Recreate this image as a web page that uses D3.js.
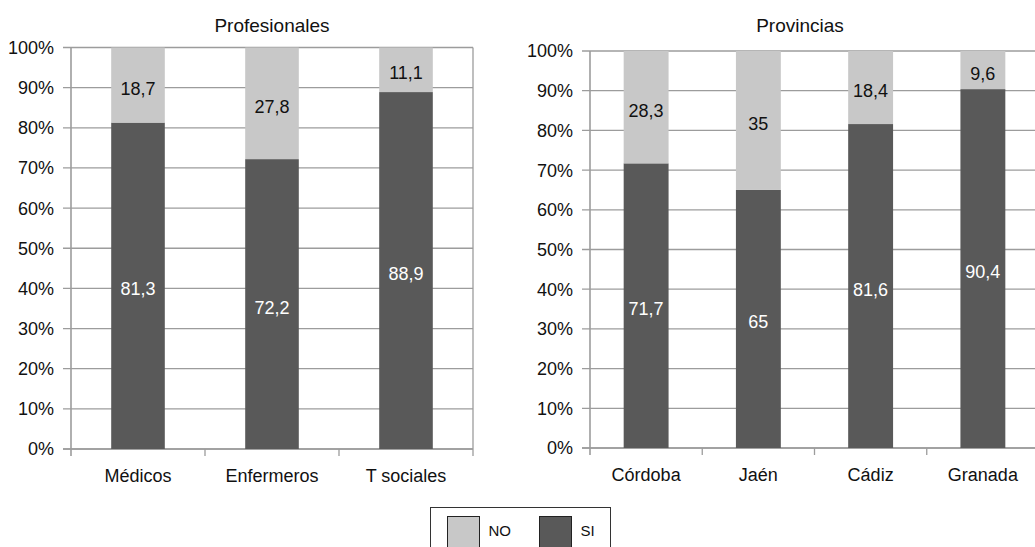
<!DOCTYPE html>
<html>
<head>
<meta charset="utf-8">
<script src="https://cdn.jsdelivr.net/npm/d3@7"></script>
<style>
  html, body { margin: 0; padding: 0; background: #fff; }
  svg { display: block; font-family: "Liberation Sans", Arial, Helvetica, sans-serif; }
</style>
</head>
<body>
<svg id="chart" width="1035" height="547"></svg>
<script>
// Percentages answering SI / NO, by professional group and by province
const profCategories = ["Médicos", "Enfermeros", "T sociales"];
const profSi = [81.3, 72.2, 88.9];
const profNo = [18.7, 27.8, 11.1];

const provCategories = ["Córdoba", "Jaén", "Cádiz", "Granada"];
const provSi = [71.7, 65, 81.6, 90.4];
const provNo = [28.3, 35, 18.4, 9.6];

const yTicks = [0, 10, 20, 30, 40, 50, 60, 70, 80, 90, 100];
const seriesNames = ["NO", "SI"];

const colors = { SI: "#595959", NO: "#c8c8c8" };
const gridColor = "#9c9c9c";
const fontSize = 18;

const svg = d3.select("#chart");

function fmt(v) { return String(v).replace(".", ","); }

function panel(opts) {
  const { title, categories, si, no, x0, x1, y0, y1 } = opts;
  const g = svg.append("g");

  const x = d3.scaleBand().domain(categories).range([x0, x1]).paddingInner(0).paddingOuter(0);
  const y = d3.scaleLinear().domain([0, 100]).range([y1, y0]);
  const barW = x.bandwidth() * 0.4;

  // horizontal gridlines (with left tick stubs)
  g.append("g").selectAll("line").data(yTicks).join("line")
    .attr("x1", x0 - 8).attr("x2", x1)
    .attr("y1", d => y(d)).attr("y2", d => y(d))
    .attr("stroke", gridColor).attr("stroke-width", 1.3);

  // y tick labels
  g.append("g").selectAll("text").data(yTicks).join("text")
    .attr("x", x0 - 17).attr("y", d => y(d))
    .attr("dy", "0.36em")
    .attr("text-anchor", "end")
    .attr("font-size", fontSize).attr("fill", "#111")
    .text(d => d + "%");

  // vertical axis line and right border
  g.append("line").attr("x1", x0).attr("x2", x0).attr("y1", y0).attr("y2", y1 + 7)
    .attr("stroke", gridColor).attr("stroke-width", 1.6);
  g.append("line").attr("x1", x1).attr("x2", x1).attr("y1", y0).attr("y2", y1)
    .attr("stroke", gridColor).attr("stroke-width", 1.3);

  // category boundary ticks below the base line
  const bounds = categories.map(c => x(c) + x.bandwidth());
  g.append("g").selectAll("line").data(bounds).join("line")
    .attr("x1", d => d).attr("x2", d => d)
    .attr("y1", y1).attr("y2", y1 + 7)
    .attr("stroke", gridColor).attr("stroke-width", 1.3);
  g.append("line").attr("x1", x0 - 8).attr("x2", x1).attr("y1", y1).attr("y2", y1)
    .attr("stroke", gridColor).attr("stroke-width", 1.6);

  const rows = categories.map((c, i) => ({ c, si: si[i], no: no[i] }));
  const cx = d => x(d.c) + x.bandwidth() / 2;

  // SI segments (bottom)
  g.append("g").selectAll("rect").data(rows).join("rect")
    .attr("x", d => cx(d) - barW / 2).attr("width", barW)
    .attr("y", d => y(d.si)).attr("height", d => y(0) - y(d.si))
    .attr("fill", colors.SI);
  // NO segments (stacked on top)
  g.append("g").selectAll("rect").data(rows).join("rect")
    .attr("x", d => cx(d) - barW / 2).attr("width", barW)
    .attr("y", d => y(d.si + d.no)).attr("height", d => y(d.si) - y(d.si + d.no))
    .attr("fill", colors.NO);

  // value labels
  g.append("g").selectAll("text").data(rows).join("text")
    .attr("x", cx).attr("y", d => (y(0) + y(d.si)) / 2 + 3)
    .attr("dy", "0.36em").attr("text-anchor", "middle")
    .attr("font-size", fontSize).attr("fill", "#fff")
    .text(d => fmt(d.si));
  g.append("g").selectAll("text").data(rows).join("text")
    .attr("x", cx).attr("y", d => (y(d.si) + y(d.si + d.no)) / 2 + 3)
    .attr("dy", "0.36em").attr("text-anchor", "middle")
    .attr("font-size", fontSize).attr("fill", "#111")
    .text(d => fmt(d.no));

  // category labels
  g.append("g").selectAll("text").data(categories).join("text")
    .attr("x", c => x(c) + x.bandwidth() / 2).attr("y", y1 + 27)
    .attr("dy", "0.36em").attr("text-anchor", "middle")
    .attr("font-size", fontSize).attr("fill", "#111")
    .text(c => c);

  // title
  g.append("text").attr("x", opts.titleX).attr("y", 25)
    .attr("dy", "0.36em").attr("text-anchor", "middle")
    .attr("font-size", 19).attr("fill", "#111")
    .text(title);
}

panel({ title: "Profesionales", categories: profCategories, si: profSi, no: profNo,
        x0: 71, x1: 473, y0: 47.5, y1: 449, titleX: 272 });
panel({ title: "Provincias", categories: provCategories, si: provSi, no: provNo,
        x0: 590, x1: 1039, y0: 51, y1: 448, titleX: 800 });

// legend
const lg = svg.append("g");
lg.append("rect").attr("x", 430.5).attr("y", 507.5).attr("width", 180).attr("height", 50)
  .attr("fill", "#fff").attr("stroke", "#333").attr("stroke-width", 1);
const legX = d3.scalePoint().domain(seriesNames).range([447.5, 539.5]);
lg.selectAll("rect.sw").data(seriesNames).join("rect").attr("class", "sw")
  .attr("x", d => legX(d)).attr("y", 516.5).attr("width", 32).attr("height", 33)
  .attr("fill", d => colors[d]).attr("stroke", "#222").attr("stroke-width", 1);
lg.selectAll("text").data(seriesNames).join("text")
  .attr("x", d => legX(d) + 41).attr("y", 531)
  .attr("dy", "0.36em").attr("font-size", 15).attr("fill", "#111")
  .text(d => d);
</script>
</body>
</html>
